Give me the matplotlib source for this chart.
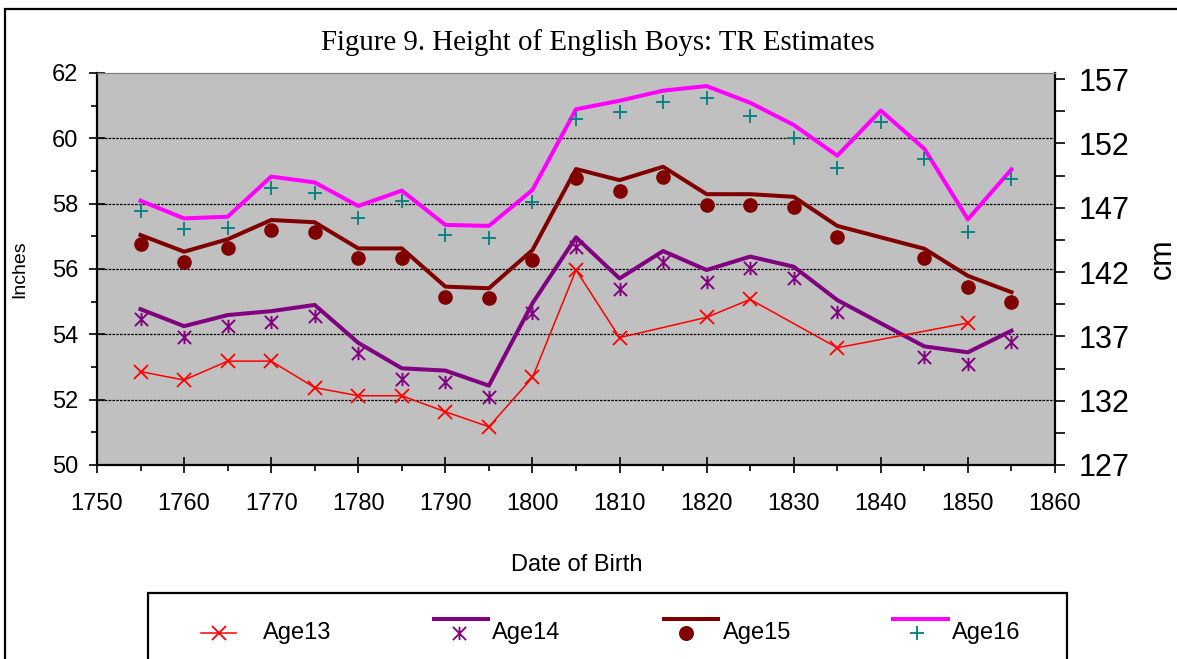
import numpy as np
import matplotlib
matplotlib.use("Agg")
import matplotlib.pyplot as plt
from matplotlib.path import Path
from matplotlib.lines import Line2D
from matplotlib.patches import Rectangle

plt.rcParams["font.family"] = ["Liberation Sans", "DejaVu Sans"]

# ---- data (inches) ----
years = [1755, 1760, 1765, 1770, 1775, 1780, 1785, 1790, 1795, 1800, 1805,
         1810, 1815, 1820, 1825, 1830, 1835, 1840, 1845, 1850, 1855]
years_no1840 = [y for y in years if y != 1840]

age13_years = [1755, 1760, 1765, 1770, 1775, 1780, 1785, 1790, 1795, 1800,
               1805, 1810, 1820, 1825, 1835, 1850]
age13 = [52.86, 52.60, 53.18, 53.18, 52.37, 52.12, 52.12, 51.63, 51.17, 52.68,
         55.97, 53.90, 54.52, 55.07, 53.59, 54.35]

age14_line = [54.77, 54.25, 54.59, 54.71, 54.90, 53.74, 52.96, 52.89, 52.43, 54.95,
              56.97, 55.71, 56.55, 55.97, 56.38, 56.07, 55.05, 53.63, 53.45, 54.11]
age14_pts = [54.46, 53.91, 54.26, 54.39, 54.56, 53.42, 52.62, 52.55, 52.07, 54.64,
             56.68, 55.39, 56.22, 55.61, 56.02, 55.73, 54.69, 53.30, 53.09, 53.76]

age15_line = [57.04, 56.53, 56.91, 57.50, 57.43, 56.63, 56.63, 55.46, 55.41, 56.58,
              59.06, 58.72, 59.13, 58.29, 58.29, 58.21, 57.32, 56.62, 55.79, 55.29]
age15_pts = [56.76, 56.20, 56.63, 57.19, 57.12, 56.33, 56.33, 55.15, 55.10, 56.27,
             58.78, 58.40, 58.83, 57.96, 57.96, 57.91, 56.99, 56.33, 55.46, 54.98]

age16_line = [58.09, 57.55, 57.60, 58.83, 58.65, 57.93, 58.40, 57.35, 57.32, 58.42,
              60.89, 61.15, 61.46, 61.60, 61.09, 60.41, 59.47, 60.85, 59.68, 57.52, 59.05]
age16_pts = [57.77, 57.21, 57.26, 58.49, 58.32, 57.57, 58.08, 57.03, 56.96, 58.06,
             60.58, 60.81, 61.12, 61.24, 60.69, 60.02, 59.10, 60.51, 59.36, 57.14, 58.74]

labels = ["Age13", "Age14", "Age15", "Age16"]
line_colors = ["#FF0000", "#800080", "#800000", "#FF00FF"]
mark_colors = ["#FF0000", "#800080", "#800000", "#008080"]

# Excel-style star marker: X with a vertical bar
star = Path([(-1, -1), (1, 1), (-1, 1), (1, -1), (0, -1), (0, 1)],
            [Path.MOVETO, Path.LINETO, Path.MOVETO, Path.LINETO, Path.MOVETO, Path.LINETO])
markers = ["x", star, "o", "+"]
msizes = [10, 9.5, 9.5, 10.5]

W, H = 1177, 659
fig = plt.figure(figsize=(W / 100, H / 100), dpi=100)
ax = fig.add_axes([97 / W, 1 - 465 / H, (1055 - 97) / W, (465 - 73) / H])
ax.set_facecolor("#C0C0C0")

lw_thick = 2.9
ax.plot(age13_years, age13, color=line_colors[0], lw=1.1, marker="x",
        ms=msizes[0], mew=1.3, zorder=5)
ax.plot(years_no1840, age14_line, color=line_colors[1], lw=lw_thick, zorder=3)
ax.plot(years_no1840, age15_line, color=line_colors[2], lw=lw_thick, zorder=3)
ax.plot(years, age16_line, color=line_colors[3], lw=lw_thick, zorder=3)
ax.plot(years_no1840, age14_pts, ls="none", marker=star, ms=msizes[1], mew=1.4,
        color=mark_colors[1], zorder=4)
ax.plot(years_no1840, age15_pts, ls="none", marker="o", ms=msizes[2],
        color=mark_colors[2], zorder=4)
ax.plot(years, age16_pts, ls="none", marker="+", ms=msizes[3], mew=1.3,
        color=mark_colors[3], zorder=4)

ax.set_xlim(1750, 1860)
ax.set_ylim(50, 62)
ax.set_xticks(np.arange(1750, 1861, 10))
ax.set_xticks(np.arange(1755, 1860, 10), minor=True)
ax.set_yticks(np.arange(50, 63, 2))
ax.set_yticks(np.arange(51, 62, 2), minor=True)

ax.yaxis.grid(True, color="black", ls=(0, (2, 1)), lw=0.9)
ax.get_ygridlines()[-1].set_visible(False)
ax.get_ygridlines()[0].set_visible(False)
ax.set_axisbelow(True)

for s in ["left", "bottom"]:
    ax.spines[s].set_linewidth(1.6)
ax.spines["right"].set_visible(False)
ax.spines["top"].set_color("#808080")
ax.spines["top"].set_linestyle((0, (2, 1)))
ax.spines["top"].set_linewidth(0.9)

ax.tick_params(axis="both", which="major", direction="inout", length=11, width=1.2,
               labelsize=17)
ax.tick_params(axis="both", which="minor", direction="out", length=4.5, width=1.2)
ax.tick_params(axis="y", which="major", pad=8)
ax.tick_params(axis="x", which="major", pad=15)

ax.set_ylabel("Inches", fontsize=14)
ax.yaxis.set_label_coords(-0.072, 0.5)
ax.set_xlabel("Date of Birth", fontsize=17)
ax.xaxis.set_label_coords(0.501, -0.228)

sec = ax.secondary_yaxis("right", functions=(lambda v: v * 2.54, lambda v: v / 2.54))
sec.set_yticks(np.arange(127, 158, 5))
sec.set_yticks(np.arange(129.5, 157, 5), minor=True)
sec.spines["right"].set_linewidth(1.6)
sec.tick_params(which="both", direction="out", length=7, width=1.2)
sec.tick_params(which="major", labelsize=22, pad=10)

fig.text(598 / W, 1 - 50 / H, "Figure 9. Height of English Boys: TR Estimates",
         family="Liberation Serif", fontsize=20.8, ha="center", va="baseline")
# the reference cuts this label at the right edge; keep it just inside
fig.text(1148 / W, 1 - 259 / H, "cm", rotation=90, fontsize=22, ha="left", va="center")

# outer chart frame
fig.patches.append(Rectangle((5 / W, -0.2), 1.2, 1.2 - 9 / H, transform=fig.transFigure,
                             fill=False, ec="black", lw=1.6))

# legend box (runs off the bottom of the picture)
fig.patches.append(Rectangle((148 / W, -0.2), (1067 - 148) / W, 0.2 + 1 - 593 / H,
                             transform=fig.transFigure, fill=False, ec="black", lw=1.6))

leg_line_x = [(201, 236), (434, 488), (664, 718), (893, 948)]
leg_mark_x = [219, 459, 686, 917]
leg_text_x = [263, 492, 723, 952]
y_mark = 1 - 633 / H
y_line = 1 - 619 / H
for i, lab in enumerate(labels):
    x0, x1 = leg_line_x[i]
    if i == 0:
        fig.lines.append(Line2D([x0 / W, x1 / W], [y_mark, y_mark], transform=fig.transFigure,
                                color=line_colors[0], lw=1.1))
    else:
        fig.lines.append(Line2D([x0 / W, x1 / W], [y_line, y_line], transform=fig.transFigure,
                                color=line_colors[i], lw=lw_thick))
    fig.lines.append(Line2D([leg_mark_x[i] / W], [y_mark], transform=fig.transFigure,
                            ls="none", marker=markers[i], ms=msizes[i], mew=1.3,
                            color=mark_colors[i]))
    fig.text(leg_text_x[i] / W, y_mark, lab, fontsize=17, ha="left", va="center")

fig.savefig("out.png", dpi=100)
